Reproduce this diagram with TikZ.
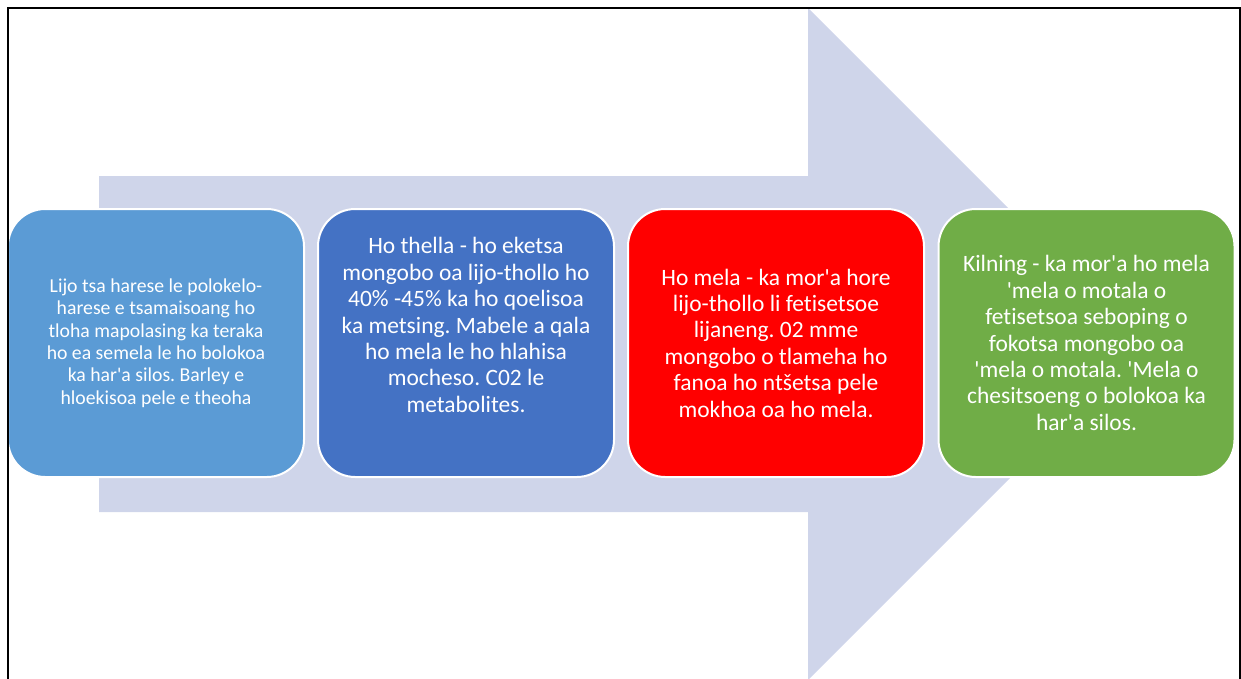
\documentclass[tikz,border=0pt]{standalone}
\usepackage{fontspec}
\setmainfont{Carlito}[Ligatures={TeXOff,CommonOff}]
\frenchspacing
\definecolor{arrowfill}{HTML}{CFD5EA}
\definecolor{stepA}{HTML}{5B9BD5}
\definecolor{stepB}{HTML}{4472C4}
\definecolor{stepC}{HTML}{FF0000}
\definecolor{stepD}{HTML}{70AD47}
\begin{document}
\begin{tikzpicture}[x=0.75pt,y=-0.75pt,
  stepbox/.style={draw=white,line width=1.5pt,rounded corners=28pt,
    minimum width=296*0.75pt,minimum height=268*0.75pt,inner sep=0pt},
  smalltext/.style={text=white,align=center,font=\fontsize{14.8}{16.8}\selectfont},
  bigtext/.style={text=white,align=center,font=\fontsize{17.6}{19.8}\selectfont}]
\useasboundingbox (0,0) rectangle (1241,678);
\begin{scope}
\clip (0,0) rectangle (1241,678);
% wide background arrow
\fill[arrowfill] (99,176) -- (808,176) -- (808,8) -- (1144,344) -- (808,680)
  -- (808,512) -- (99,512) -- cycle;
% process steps
\node[stepbox,fill=stepA] (b1) at (156,343) {};
\node[stepbox,fill=stepB] (b2) at (466,343) {};
\node[stepbox,fill=stepC] (b3) at (776,343) {};
\node[stepbox,fill=stepD] (b4) at (1086.5,343) {};
\node[smalltext] (t1) at (b1.center) {Lijo tsa harese le polokelo-\\harese e tsamaisoang ho\\tloha mapolasing ka teraka\\ho ea semela le ho bolokoa\\ka har'a silos. Barley e\\hloekisoa pele e theoha};
\node[bigtext] (t2) at ([yshift=18*0.75pt]b2.center) {Ho thella - ho eketsa\\mongobo oa lijo-thollo ho\\40\% -45\% ka ho qoelisoa\\ka metsing. Mabele a qala\\ho mela le ho hlahisa\\mocheso. C02 le\\metabolites.};
\node[bigtext] (t3) at (b3.center) {Ho mela - ka mor'a hore\\lijo-thollo li fetisetsoe\\lijaneng. 02 mme\\mongobo o tlameha ho\\fanoa ho ntšetsa pele\\mokhoa oa ho mela.};
\node[bigtext] (t4) at (b4.center) {Kilning - ka mor'a ho mela\\'mela o motala o\\fetisetsoa seboping o\\fokotsa mongobo oa\\'mela o motala. 'Mela o\\chesitsoeng o bolokoa ka\\har'a silos.};
% frame
\draw[black,line width=2pt] (8,690) -- (8,8) -- (1240,8) -- (1240,690);
\end{scope}
\end{tikzpicture}
\end{document}
